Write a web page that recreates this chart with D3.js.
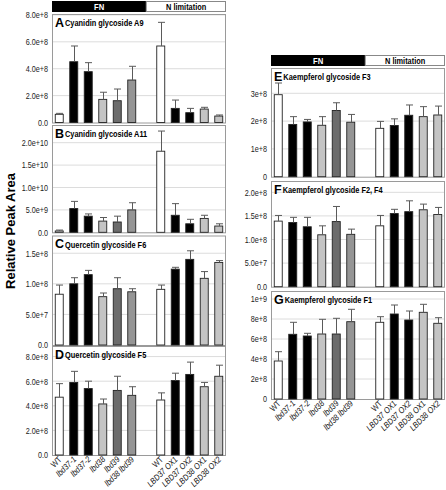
<!DOCTYPE html>
<html><head><meta charset="utf-8">
<script src="https://cdn.jsdelivr.net/npm/d3@7"></script>
<style>body{margin:0;background:#fff}svg{display:block}</style>
</head><body>
<script>
// ---------- data ----------
const groups = ["FN", "N limitation"];
const categories = ["WT","lbd37-1","lbd37-2","lbd38","lbd39","lbd38 lbd39","WT","LBD37 OX1","LBD37 OX2","LBD38 OX1","LBD38 OX2"];
const categoryGroup = ["FN","FN","FN","FN","FN","FN","N limitation","N limitation","N limitation","N limitation","N limitation"];
const genotypeFill = ["#ffffff","#000000","#000000","#c4c4c4","#6c6c6c","#959595","#ffffff","#000000","#000000","#c4c4c4","#c4c4c4"];

const titles = ["Cyanidin glycoside A9","Cyanidin glycoside A11","Quercetin glycoside F6","Quercetin glycoside F5",
                "Kaempferol glycoside F3","Kaempferol glycoside F2, F4","Kaempferol glycoside F1"];
const letters = ["A","B","C","D","E","F","G"];

const valuesA = [0.61e8,4.52e8,3.78e8,1.72e8,1.62e8,3.16e8,5.69e8,1.05e8,0.73e8,1.00e8,0.48e8];
const errTopA = [0.68e8,5.69e8,4.45e8,2.25e8,2.49e8,4.18e8,7.45e8,1.67e8,1.05e8,1.13e8,0.56e8];
const valuesB = [0.3e9,5.3e9,3.6e9,2.5e9,2.3e9,5.0e9,18.1e9,3.8e9,1.9e9,3.1e9,1.4e9];
const errTopB = [0.5e9,6.9e9,4.1e9,3.3e9,3.6e9,6.6e9,22.6e9,6.4e9,2.9e9,3.8e9,1.9e9];
const valuesC = [0.83e8,1.00e8,1.15e8,0.79e8,0.92e8,0.87e8,0.91e8,1.24e8,1.40e8,1.09e8,1.35e8];
const errTopC = [0.98e8,1.10e8,1.22e8,0.85e8,1.10e8,0.92e8,0.98e8,1.27e8,1.54e8,1.20e8,1.38e8];
const valuesD = [4.7e8,5.9e8,5.4e8,4.15e8,5.25e8,4.85e8,4.47e8,6.05e8,6.55e8,5.55e8,6.4e8];
const errTopD = [5.8e8,6.8e8,6.0e8,4.55e8,6.4e8,5.55e8,5.05e8,6.65e8,7.55e8,5.9e8,7.3e8];
const valuesE = [2.95e8,1.88e8,1.97e8,1.85e8,2.38e8,1.96e8,1.74e8,1.84e8,2.21e8,2.16e8,2.22e8];
const errTopE = [3.37e8,2.16e8,2.06e8,2.16e8,2.66e8,2.24e8,1.99e8,2.08e8,2.58e8,2.52e8,2.54e8];
const valuesF = [1.39e8,1.36e8,1.27e8,1.10e8,1.38e8,1.11e8,1.29e8,1.55e8,1.59e8,1.63e8,1.53e8];
const errTopF = [1.51e8,1.47e8,1.47e8,1.29e8,1.70e8,1.22e8,1.51e8,1.64e8,1.82e8,1.75e8,1.68e8];
const valuesG = [3.8e8,6.47e8,6.3e8,6.5e8,6.5e8,7.73e8,7.67e8,8.5e8,7.9e8,8.67e8,7.57e8];
const errTopG = [4.73e8,7.67e8,6.57e8,7.97e8,8.07e8,8.97e8,8.23e8,9.4e8,8.8e8,9.47e8,8.13e8];

const ticksA = [0,2e8,4e8,6e8,8e8],      tickLabelsA = ["0.0","2.0e+8","4.0e+8","6.0e+8","8.0e+8"];
const ticksB = [0,5e9,1e10,1.5e10,2e10], tickLabelsB = ["0.0","5.0e+9","1.0e+10","1.5e+10","2.0e+10"];
const ticksC = [0,5e7,1e8,1.5e8],        tickLabelsC = ["0.0","5.0e+7","1.0e+8","1.5e+8"];
const ticksD = [0,2e8,4e8,6e8,8e8],      tickLabelsD = ["0.0","2.0e+8","4.0e+8","6.0e+8","8.0e+8"];
const ticksE = [0,1e8,2e8,3e8],          tickLabelsE = ["0","1e+8","2e+8","3e+8"];
const ticksF = [0,5e7,1e8,1.5e8,2e8],    tickLabelsF = ["0.0","5.0e+7","1.0e+8","1.5e+8","2.0e+8"];
const ticksG = [0,2e8,4e8,6e8,8e8,1e9],  tickLabelsG = ["0","2e+8","4e+8","6e+8","8e+8","1e+9"];

const yTitle = "Relative Peak Area";

// ---------- layout ----------
const W = 446, H = 490;
const FONT = "'Liberation Sans', Arial, Helvetica, sans-serif";
const svg = d3.select("body").append("svg").attr("width", W).attr("height", H);

const columns = [{x0: 52, x1: 226, headerY: 1}, {x0: 271, x1: 445, headerY: 55}];
const panels = [
  {col: 0, top: 14,  base: 122.5, max: 8.07e8,  v: valuesA, e: errTopA, t: ticksA, tl: tickLabelsA},
  {col: 0, top: 125, base: 232.3, max: 2.395e10, v: valuesB, e: errTopB, t: ticksB, tl: tickLabelsB},
  {col: 0, top: 235.5, base: 345, max: 1.79e8,  v: valuesC, e: errTopC, t: ticksC, tl: tickLabelsC},
  {col: 0, top: 346, base: 455,   max: 8.86e8,  v: valuesD, e: errTopD, t: ticksD, tl: tickLabelsD, xlab: true},
  {col: 1, top: 68,  base: 176.7, max: 3.91e8,  v: valuesE, e: errTopE, t: ticksE, tl: tickLabelsE},
  {col: 1, top: 181, base: 286.7, max: 2.24e8,  v: valuesF, e: errTopF, t: ticksF, tl: tickLabelsF},
  {col: 1, top: 291, base: 399,   max: 1.08e9,  v: valuesG, e: errTopG, t: ticksG, tl: tickLabelsG, xlab: true}
];

const slotKeys = categories.map((c, i) => categoryGroup[i] + "|" + c);
slotKeys.splice(6, 0, "gap");

function narrow(sel, f) {
  sel.each(function() {
    const len = this.getComputedTextLength();
    if (len > 0) d3.select(this).attr("textLength", len * f).attr("lengthAdjust", "spacingAndGlyphs");
  });
}

columns.forEach((col, ci) => {
  const x = d3.scaleBand().domain(slotKeys).range([col.x0, col.x1]).paddingInner(0.38).paddingOuter(0.19);
  col.x = x;
  const mid = x("gap") + x.bandwidth() / 2;
  const hy = col.headerY, hh = 11;
  const hg = svg.append("g");
  hg.append("rect").attr("x", col.x0).attr("y", hy).attr("width", mid - col.x0).attr("height", hh).attr("fill", "#000");
  hg.append("rect").attr("x", mid).attr("y", hy + 0.5).attr("width", col.x1 - mid - 0.5).attr("height", hh - 1)
    .attr("fill", "#fff").attr("stroke", "#888").attr("stroke-width", 1);
  hg.append("text").attr("x", (col.x0 + mid) / 2).attr("y", hy + 8.8).attr("text-anchor", "middle")
    .attr("font-family", FONT).attr("font-weight", "bold").attr("font-size", 9).attr("fill", "#fff").text(groups[0]).call(narrow, 0.85);
  hg.append("text").attr("x", (mid + col.x1) / 2).attr("y", hy + 8.8).attr("text-anchor", "middle")
    .attr("font-family", FONT).attr("font-weight", "bold").attr("font-size", 9).attr("fill", "#000").text(groups[1]).call(narrow, 0.82);
});

panels.forEach((p, pi) => {
  const col = columns[p.col];
  const x = col.x;
  const y = d3.scaleLinear().domain([0, p.max]).range([p.base, p.top]);
  const g = svg.append("g");

  g.selectAll("line.grid").data(p.t.filter(d => d > 0)).join("line")
    .attr("x1", col.x0).attr("x2", col.x1).attr("y1", d => y(d)).attr("y2", d => y(d))
    .attr("stroke", "#dcdcdc").attr("stroke-width", 1);

  g.append("rect").attr("x", col.x0 + 0.5).attr("y", p.top + 0.5).attr("width", col.x1 - col.x0 - 1).attr("height", p.base - p.top)
    .attr("fill", "none").attr("stroke", "#9a9a9a").attr("stroke-width", 1);

  const axis = d3.axisLeft(y).tickValues(p.t).tickFormat((d, i) => p.tl[i]).tickSize(0).tickPadding(4);
  const ag = g.append("g").attr("transform", `translate(${col.x0},0)`).call(axis);
  ag.select(".domain").remove();
  ag.selectAll("text").attr("font-family", FONT).attr("font-size", 8.8).attr("fill", "#222").call(narrow, 0.82);

  const keys = slotKeys.filter(k => k !== "gap");
  g.selectAll("rect.bar").data(p.v).join("rect")
    .attr("x", (d, i) => x(keys[i]) + 0.5).attr("width", x.bandwidth() - 1)
    .attr("y", d => y(d)).attr("height", d => p.base - y(d))
    .attr("fill", (d, i) => genotypeFill[i]).attr("stroke", "#222").attr("stroke-width", 0.9);

  const eg = g.append("g").attr("stroke", "#5a5a5a").attr("stroke-width", 1);
  p.e.forEach((ev, i) => {
    const cx = Math.round(x(keys[i]) + x.bandwidth() / 2) + 0.5;
    eg.append("line").attr("x1", cx).attr("x2", cx).attr("y1", y(p.v[i])).attr("y2", y(ev));
    eg.append("line").attr("x1", cx - 3.5).attr("x2", cx + 3.5).attr("y1", y(ev)).attr("y2", y(ev));
  });

  const tt = g.append("text").attr("x", col.x0 + 3).attr("y", p.top + 12.5).attr("font-family", FONT).attr("fill", "#000");
  tt.append("tspan").attr("font-weight", "bold").attr("font-size", 12.5).text(letters[pi]);
  const tsub = g.append("text").attr("y", p.top + 12).attr("font-family", FONT).attr("font-weight", "bold")
    .attr("font-size", 9).attr("fill", "#000").text(titles[pi]);
  const lw = tt.node().getComputedTextLength();
  tsub.attr("x", col.x0 + 3 + lw + 1).call(narrow, 0.82);

  if (p.xlab) {
    const lg = g.append("g");
    categories.forEach((c, i) => {
      const cx = x(keys[i]) + x.bandwidth() / 2 + 3;
      const cy = p.base + 5;
      lg.append("text").attr("transform", `translate(${cx},${cy}) rotate(-45)`)
        .attr("text-anchor", "end").attr("font-family", FONT).attr("font-size", 8.6)
        .attr("font-style", c === "WT" ? "normal" : "italic").attr("fill", "#111").text(c).call(narrow, 0.85);
    });
  }
});

svg.append("text").attr("transform", "translate(15,231) rotate(-90)").attr("text-anchor", "middle")
  .attr("font-family", FONT).attr("font-weight", "bold").attr("font-size", 13).attr("fill", "#000").text(yTitle);
</script>
</body></html>
